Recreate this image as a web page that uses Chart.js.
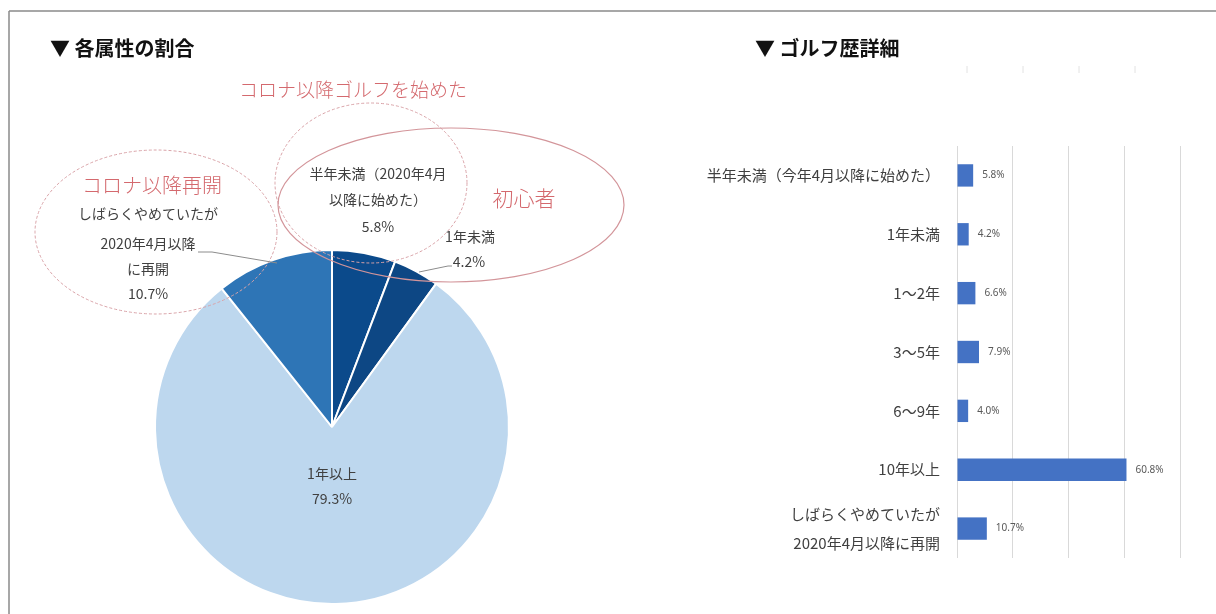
<!DOCTYPE html>
<html><head><meta charset="utf-8">
<script src="https://cdn.jsdelivr.net/npm/chart.js@4.4.1/dist/chart.umd.min.js"></script>
<style>
body{margin:0;background:#fff;width:1216px;height:614px;overflow:hidden;position:relative;font-family:"Noto Sans CJK JP","Noto Sans",sans-serif;}
.t{position:absolute;white-space:nowrap;transform:translate(-50%,-50%);line-height:1;color:#404040;font-size:14px;}
.red{color:#d4696e;font-weight:300;}
.title{position:absolute;white-space:nowrap;transform:translateY(-50%);line-height:1;color:#111;font-size:20px;font-weight:700;}
#pie{position:absolute;left:150px;top:245px;}
#bar{position:absolute;left:690px;top:130px;}
#ov{position:absolute;left:0;top:0;pointer-events:none;}
</style></head>
<body>
<canvas id="pie" width="364" height="364"></canvas>
<canvas id="bar" width="510" height="450"></canvas>
<svg id="ov" width="1216" height="614">
  <line x1="9" y1="11" x2="1216" y2="11" stroke="#8a8a8a" stroke-width="1.5"/>
  <line x1="9" y1="11" x2="9" y2="614" stroke="#8a8a8a" stroke-width="1.5"/>
  <g stroke="#e2e2e2" stroke-width="1">
    <line x1="967" y1="66" x2="967" y2="73"/><line x1="1023" y1="66" x2="1023" y2="73"/>
    <line x1="1079" y1="66" x2="1079" y2="73"/><line x1="1135" y1="66" x2="1135" y2="73"/>
  </g>
  <ellipse cx="156" cy="232" rx="121" ry="82" fill="none" stroke="#d9a3a8" stroke-width="1" stroke-dasharray="3 2"/>
  <ellipse cx="371" cy="183" rx="96" ry="80" fill="none" stroke="#d9a3a8" stroke-width="1" stroke-dasharray="3 2"/>
  <ellipse cx="451" cy="205" rx="173" ry="77" fill="none" stroke="#d3959a" stroke-width="1.2"/>
  <polyline points="198,252 212,252 277,263" fill="none" stroke="#8c8c8c" stroke-width="1"/>
  <polyline points="419,272 448,266 452,266" fill="none" stroke="#8c8c8c" stroke-width="1"/>
</svg>
<div class="title" style="left:50px;top:48px;">▼ 各属性の割合</div>
<div class="title" style="left:755px;top:48px;">▼ ゴルフ歴詳細</div>
<div class="t red" style="left:353px;top:88px;font-size:19px;">コロナ以降ゴルフを始めた</div>
<div class="t red" style="left:152px;top:185px;font-size:20px;">コロナ以降再開</div>
<div class="t red" style="left:524px;top:197px;font-size:21px;">初心者</div>
<div id="pl"></div>
<script>
// ---- data ----
const pieLabels = ['半年未満（2020年4月以降に始めた）', '1年未満', '1年以上', 'しばらくやめていたが2020年4月以降に再開'];
const pieValues = [5.8, 4.2, 79.3, 10.7];
const pieColors = ['#0b4a8b', '#0d4784', '#bdd7ee', '#2e75b6'];

const barCategories = [
  '半年未満（今年4月以降に始めた）',
  '1年未満',
  '1〜2年',
  '3〜5年',
  '6〜9年',
  '10年以上',
  ['しばらくやめていたが', '2020年4月以降に再開']
];
const barValues = [5.8, 4.2, 6.6, 7.9, 4.0, 60.8, 10.7];
const xTicks = [0, 20, 40, 60, 80];

const pct = v => v.toFixed(1) + '%';

// pie annotation text (values from data)
const pl = document.getElementById('pl');
function addText(txt, x, y) {
  const d = document.createElement('div');
  d.className = 't'; d.style.left = x + 'px'; d.style.top = y + 'px';
  d.textContent = txt; pl.appendChild(d);
}
addText('半年未満（2020年4月', 378, 173);
addText('以降に始めた）', 378, 199);
addText(pct(pieValues[0]), 378, 226);
addText('1年未満', 470, 236);
addText(pct(pieValues[1]), 469, 261);
addText('1年以上', 332, 473);
addText(pct(pieValues[2]), 332, 498);
addText('しばらくやめていたが', 148, 213);
addText('2020年4月以降', 148, 243);
addText('に再開', 148, 268);
addText(pct(pieValues[3]), 148, 293);

Chart.defaults.font.family = '"Noto Sans CJK JP","Noto Sans",sans-serif';

new Chart(document.getElementById('pie'), {
  type: 'pie',
  data: { labels: pieLabels, datasets: [{ data: pieValues, backgroundColor: pieColors, borderColor: '#ffffff', borderWidth: 2 }] },
  options: {
    responsive: false, animation: false,
    layout: { padding: 4 },
    plugins: { legend: { display: false }, tooltip: { enabled: false } }
  }
});

const valueLabels = {
  id: 'valueLabels',
  afterDatasetsDraw(chart) {
    const ctx = chart.ctx;
    const meta = chart.getDatasetMeta(0);
    ctx.save();
    ctx.font = '10px "Noto Sans","Noto Sans CJK JP",sans-serif';
    ctx.fillStyle = '#595959';
    ctx.textBaseline = 'middle';
    meta.data.forEach((el, i) => {
      ctx.fillText(pct(chart.data.datasets[0].data[i]), el.x + 9, el.y);
    });
    ctx.restore();
  }
};

new Chart(document.getElementById('bar'), {
  type: 'bar',
  data: { labels: barCategories, datasets: [{ data: barValues, backgroundColor: '#4472c4', barPercentage: 0.38, categoryPercentage: 1 }] },
  options: {
    indexAxis: 'y', responsive: false, animation: false,
    layout: { padding: { top: 16, bottom: 22, left: 0, right: 20 } },
    plugins: { legend: { display: false }, tooltip: { enabled: false } },
    scales: {
      x: {
        min: xTicks[0], max: xTicks[xTicks.length - 1],
        afterBuildTicks: s => { s.ticks = xTicks.map(v => ({ value: v })); },
        ticks: { display: false },
        grid: { color: '#d9d9d9', drawTicks: false },
        border: { display: false },
        afterFit: s => { s.height = 0; s.paddingLeft = 0; s.paddingRight = 0; }
      },
      y: {
        grid: { display: false, drawTicks: false },
        border: { display: false },
        ticks: { color: '#404040', font: { size: 15, lineHeight: 1.9 }, padding: 17, autoSkip: false },
        afterFit: s => { s.width = 267; s.paddingTop = 0; s.paddingBottom = 0; }
      }
    }
  },
  plugins: [valueLabels]
});
</script>
</body></html>
